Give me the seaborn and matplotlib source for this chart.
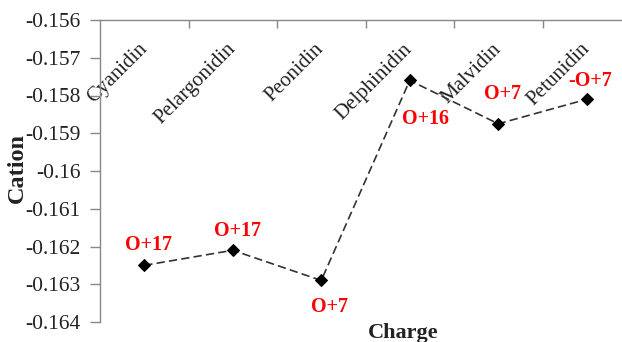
import matplotlib
matplotlib.use("Agg")
import matplotlib.pyplot as plt
import seaborn as sns
import pandas as pd
from matplotlib.ticker import FixedLocator

# Anthocyanidins and their cation values
categories = ["Cyanidin", "Pelargonidin", "Peonidin", "Delphinidin", "Malvidin", "Petunidin"]
cation = [-0.1625, -0.1621, -0.1629, -0.1576, -0.15875, -0.1581]
charge_labels = ["O+17", "O+17", "O+7", "O+16", "O+7", "-O+7"]
# label offsets (pixels) from each point
label_dx = [4, 5, 8, 16, 4, 3]
label_dy = [20, 19, -27, -39, 30, 18]

y_ticks = [-0.156, -0.157, -0.158, -0.159, -0.160, -0.161, -0.162, -0.163, -0.164]
y_tick_labels = ["-0.156", "-0.157", "-0.158", "-0.159", "-0.16", "-0.161", "-0.162", "-0.163", "-0.164"]

sns.set_style("white")
plt.rcParams["font.family"] = ["Liberation Serif", "DejaVu Serif"]
plt.rcParams["axes.unicode_minus"] = False

df = pd.DataFrame({"pos": range(len(categories)), "cation": cation})

W, H = 622, 342
fig = plt.figure(figsize=(W / 100, H / 100), dpi=100)
ax = fig.add_axes([100 / W, (H - 322) / H, 531 / W, 302 / H])

sns.lineplot(data=df, x="pos", y="cation", ax=ax, color="#333333", linewidth=1.2,
             dashes=False, marker="D", markersize=6.5, markerfacecolor="black",
             markeredgecolor="black", zorder=3)
ax.lines[0].set_dashes((5, 2.5))

for i, (lab, dx, dy) in enumerate(zip(charge_labels, label_dx, label_dy)):
    ax.annotate(lab, (i, cation[i]), xytext=(dx, dy), textcoords="offset pixels",
                ha="center", va="center", color="#ff0000", fontsize=14.5,
                fontweight="bold")

ax.set_xlim(-0.5, len(categories) - 0.5)
ax.set_ylim(-0.164, -0.156)
ax.set_yticks(y_ticks)
ax.set_yticklabels(y_tick_labels, fontsize=15.5, color="#222222")

# category axis sits on top, labels drawn inside the plot
ax.xaxis.tick_top()
ax.set_xticks(range(len(categories)))
ax.set_xticklabels(categories, fontsize=15, color="#222222", rotation=45)
for t in ax.get_xticklabels():
    t.set_ha("right")
    t.set_va("center")
    t.set_rotation_mode("anchor")
ax.xaxis.set_minor_locator(FixedLocator([i + 0.5 for i in range(len(categories) - 1)]))
ax.tick_params(axis="x", which="major", length=0, pad=-19)
ax.tick_params(axis="x", which="minor", top=True, bottom=False, direction="in",
               length=6, width=1, color="#888888")
ax.tick_params(axis="y", which="major", left=True, direction="out", length=7,
               width=1, color="#888888", pad=7)

for side in ("right", "bottom"):
    ax.spines[side].set_visible(False)
for side in ("left", "top"):
    ax.spines[side].set_color("#888888")
    ax.spines[side].set_linewidth(1)

ax.set_xlabel("")
ax.set_ylabel("Cation", fontsize=17.5, fontweight="bold", color="#222222")
ax.yaxis.set_label_coords(-0.136, 0.51)
fig.text(403 / W, 1 - 333 / H, "Charge", fontsize=16, fontweight="bold",
         color="#222222", ha="center", va="center")

fig.savefig("out.png", dpi=100)
